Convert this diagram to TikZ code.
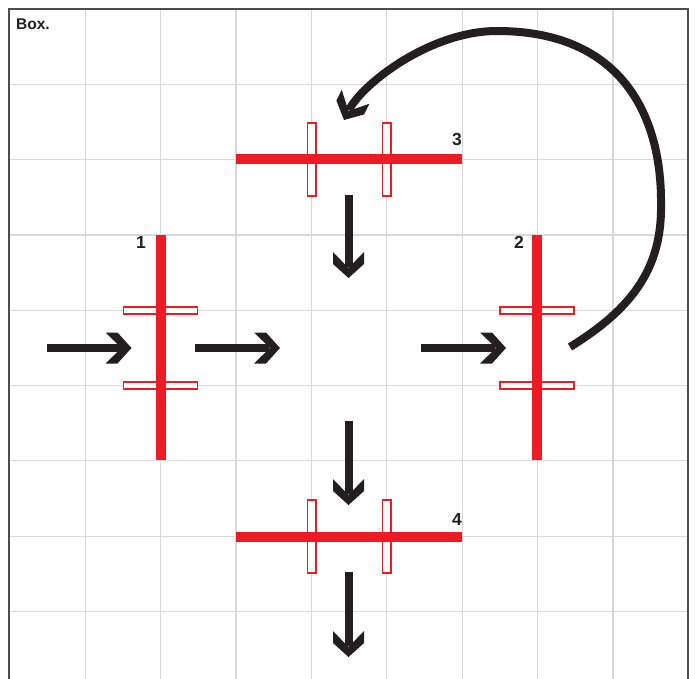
\documentclass[tikz,border=0pt]{standalone}
\usepackage{fontspec}
\setmainfont{Liberation Sans}
\usetikzlibrary{arrows.meta}
\definecolor{barred}{HTML}{ED1C24}
\definecolor{arrblk}{HTML}{231F20}
\definecolor{gridgray}{HTML}{D9D9D9}
\definecolor{framegray}{HTML}{4D4D4D}
\pgfdeclarearrow{
  name = Chev,
  parameters = {},
  setup code = {
    \pgfarrowssettipend{0pt}
    \pgfarrowssetlineend{-11pt}
    \pgfarrowssetbackend{-26pt}
    \pgfarrowshullpoint{0pt}{0pt}
    \pgfarrowshullpoint{-26pt}{15.5pt}
    \pgfarrowshullpoint{-26pt}{-15.5pt}
  },
  drawing code = {
    \pgfpathmoveto{\pgfpoint{0pt}{0pt}}
    \pgfpathlineto{\pgfpoint{-14pt}{15.5pt}}
    \pgfpathlineto{\pgfpoint{-26pt}{15.5pt}}
    \pgfpathlineto{\pgfpoint{-10pt}{0pt}}
    \pgfpathlineto{\pgfpoint{-26pt}{-15.5pt}}
    \pgfpathlineto{\pgfpoint{-14pt}{-15.5pt}}
    \pgfpathclose
    \pgfusepathqfill
  }
}
\begin{document}
\begin{tikzpicture}[x=1pt,y=-1pt,
  gridline/.style={draw=gridgray,line width=1.2pt},
  frameline/.style={draw=framegray,line width=1.6pt},
  barbox/.style={fill=barred,draw=none,inner sep=0pt,outer sep=0pt},
  slotv/.style={draw=barred,fill=white,line width=1.8pt,inner sep=0pt,outer sep=0pt,minimum width=8.2pt,minimum height=73pt},
  sloth/.style={draw=barred,fill=white,line width=1.8pt,inner sep=0pt,outer sep=0pt,minimum width=74pt,minimum height=7.7pt},
  flow/.style={draw=arrblk,line width=8pt,-{Chev}},
  lbl/.style={font=\bfseries\fontsize{17.5}{17.5}\selectfont,text=arrblk,inner sep=0pt},
  titlelbl/.style={font=\bfseries\fontsize{15.5}{15.5}\selectfont,text=arrblk,inner sep=0pt}]
\useasboundingbox (0,0) rectangle (698,679);
\fill[white] (0,0) rectangle (698,679);
% grid
\foreach \k in {1,...,8} {
  \draw[gridline] ({9.7+75.4*\k},9) -- ({9.7+75.4*\k},679);
  \draw[gridline] (9,{9+75.3*\k}) -- (688,{9+75.3*\k});
}
% frame
\coordinate (fbl) at (9,679);
\coordinate (ftl) at (9,9);
\coordinate (ftr) at (688,9);
\coordinate (fbr) at (688,679);
\draw[frameline] (fbl) -- (ftl) -- (ftr) -- (fbr);
\node[titlelbl,anchor=base west] (title) at (16,30) {Box.};
% slots
\node[sloth] (s1a) at (160.5,310.5) {};
\node[sloth] (s1b) at (160.5,385.5) {};
\node[sloth] (s2a) at (537,310.5) {};
\node[sloth] (s2b) at (537,385.5) {};
\node[slotv] (s3a) at (311.5,159.2) {};
\node[slotv] (s3b) at (386.5,159.2) {};
\node[slotv] (s4a) at (311.5,536.5) {};
\node[slotv] (s4b) at (386.5,536.5) {};
% bars
\node[barbox,minimum width=10pt,minimum height=225pt] (b1) at (160.5,347.5) {};
\node[barbox,minimum width=10pt,minimum height=225pt] (b2) at (537,347.5) {};
\node[barbox,minimum width=226pt,minimum height=10pt] (b3) at (348.7,159.2) {};
\node[barbox,minimum width=226pt,minimum height=10pt] (b4) at (348.7,536.5) {};
% labels
\node[lbl,anchor=base east] (l1) at (146,248.5) {1};
\node[lbl,anchor=base east] (l2) at (524,248.5) {2};
\node[lbl,anchor=base east] (l3) at (462,146) {3};
\node[lbl,anchor=base east] (l4) at (462,525) {4};
% arrow end points
\coordinate (a1s) at (47,348);  \coordinate (a1e) at (131.5,348);
\coordinate (a2s) at (195,348); \coordinate (a2e) at (280,348);
\coordinate (a3s) at (421,348); \coordinate (a3e) at (506,348);
\coordinate (d1s) at (348.5,195); \coordinate (d1e) at (348.5,278);
\coordinate (d2s) at (348.5,421); \coordinate (d2e) at (348.5,505);
\coordinate (d3s) at (348.5,572); \coordinate (d3e) at (348.5,657);
\coordinate (cs) at (570,347);
\coordinate (cm1) at (661,205);
\coordinate (cm2) at (497,31);
\coordinate (ce) at (344,120);
\draw[flow] (a1s) -- (a1e);
\draw[flow] (a2s) -- (a2e);
\draw[flow] (a3s) -- (a3e);
\draw[flow] (d1s) -- (d1e);
\draw[flow] (d2s) -- (d2e);
\draw[flow] (d3s) -- (d3e);
\draw[flow] (cs) .. controls (630,310) and (662,270) .. (cm1)
  .. controls (662,120) and (625,31) .. (cm2)
  .. controls (430,31) and (362,84) .. (ce);
\end{tikzpicture}
\end{document}
